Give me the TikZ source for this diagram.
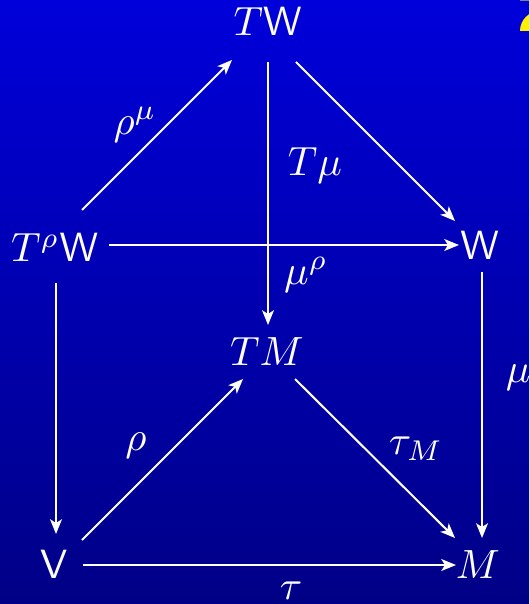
\documentclass[tikz,border=0pt]{standalone}
\usetikzlibrary{arrows.meta,calc}
\definecolor{bgtop}{RGB}{0,0,218}
\definecolor{bgmid}{RGB}{0,0,178}
\definecolor{bgbot}{RGB}{0,0,134}
\definecolor{yel}{RGB}{255,240,0}
\begin{document}
\begin{tikzpicture}[x=0.245pt,y=-0.245pt,
  lbl/.style={text=white,inner sep=0pt},
  obj/.style={text=white,inner sep=0pt,anchor=base},
  arr/.style={white,line width=0.5pt,-{Stealth[length=3.6pt,width=2.9pt,inset=0.9pt]}}]
\useasboundingbox (0,0) rectangle (529,604);
\shade[top color=bgtop,middle color=bgmid,bottom color=bgbot] (0,0) rectangle (529,604);
\begin{scope}
\clip (0,0) rectangle (529,31);
\fill[yel] (540,31) circle[radius=20];
\end{scope}
\fill[gray] (520,0) rectangle (529,1.2);
% objects
\node[obj] (tw) at (268,36) {$T\mathsf{W}$};
\node[obj] (trw) at (55,262) {$T^{\rho}\mathsf{W}$};
\node[obj] (w) at (480,260) {$\mathsf{W}$};
\node[obj] (tm) at (267,366) {$TM$};
\node[obj] (v) at (54,578) {$\mathsf{V}$};
\node[obj] (m) at (478,578) {$M$};
% labels
\node[lbl] (lrm) at (135,125) {$\rho^{\mu}$};
\node[lbl] (ltmu) at (315,166) {$T\mu$};
\node[lbl] (lmr) at (306,275) {$\mu^{\rho}$};
\node[lbl] (lr) at (136,446) {$\rho$};
\node[lbl] (ltm) at (416,449) {$\tau_M$};
\node[lbl] (lt) at (291,591) {$\tau$};
\node[lbl,anchor=west] (lmu) at (505,378) {$\mu$};
% arrows
\draw[arr] ($(trw.base)+(27,-52)$) -- ($(tw.base)+(-36,24)$);
\draw[arr] ($(tw.base)+(0,26)$) -- ($(tm.base)+(1,-41)$);
\draw[arr] ($(tw.base)+(28,26)$) -- ($(w.base)+(-25,-39)$);
\draw[arr] ($(trw.base)+(54,-17)$) -- ($(w.base)+(-21,-15)$);
\draw[arr] ($(trw.base)+(1,21)$) -- ($(v.base)+(2,-44)$);
\draw[arr] ($(w.base)+(2,12)$) -- ($(m.base)+(4,-40)$);
\draw[arr] ($(v.base)+(28,-38)$) -- ($(tm.base)+(-24,13)$);
\draw[arr] ($(tm.base)+(28,13)$) -- ($(m.base)+(-23,-40)$);
\draw[arr] ($(v.base)+(29,-13)$) -- ($(m.base)+(-22,-13)$);
\end{tikzpicture}
\end{document}
